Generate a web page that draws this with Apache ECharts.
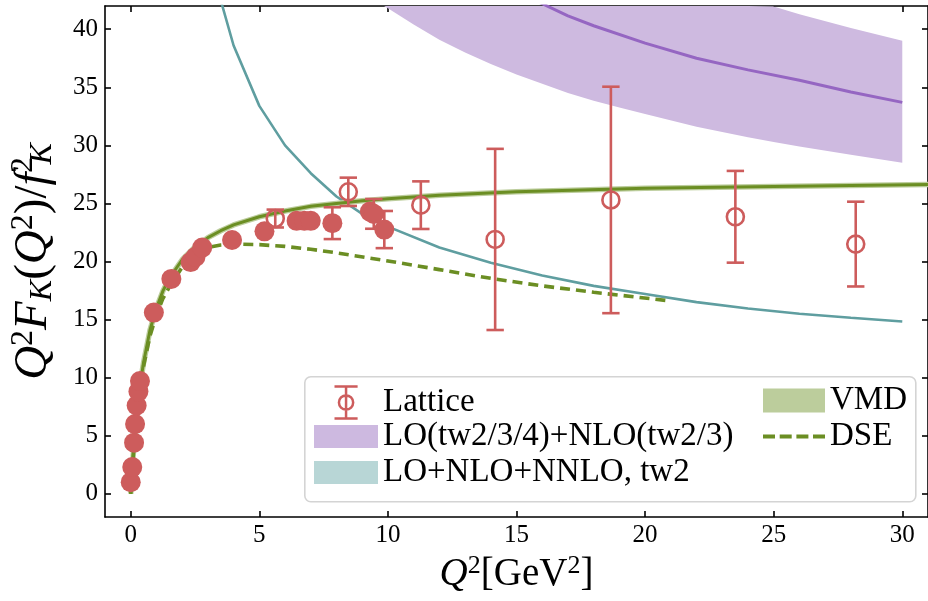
<!DOCTYPE html>
<html><head><meta charset="utf-8">
<script src="https://cdn.jsdelivr.net/npm/echarts@6/dist/echarts.min.js"></script>
<style>html,body{margin:0;padding:0;background:#fff}#c{width:928px;height:601px}</style>
</head><body><div id="c"></div>
<script>
// ---------- tick labels ----------
const xTicks = [0, 5, 10, 15, 20, 25, 30];
const yTicks = [0, 5, 10, 15, 20, 25, 30, 35, 40];

// ---------- Lattice (filled) ----------
const latticeFilledX = [0.00, 0.06, 0.13, 0.17, 0.23, 0.30, 0.36, 0.90, 1.58, 2.33, 2.52, 2.78, 3.94, 5.20, 6.45, 6.75, 7.00, 7.84, 9.30, 9.45, 9.86];
const latticeFilledY = [1.0, 2.3, 4.4, 6.0, 7.6, 8.8, 9.7, 15.6, 18.5, 19.95, 20.4, 21.2, 21.85, 22.6, 23.5, 23.5, 23.5, 23.3, 24.3, 24.1, 22.75];
const latticeFilledErr = [0, 0, 0, 0, 0, 0, 0, 0, 0, 0, 0, 0, 0, 0, 0, 0, 0, 1.37, 0, 1.28, 1.6];

// ---------- Lattice (open) ----------
const latticeOpenX = [5.62, 8.46, 11.28, 14.17, 18.67, 23.51, 28.19];
const latticeOpenY = [23.7, 26.0, 24.85, 21.9, 25.3, 23.85, 21.5];
const latticeOpenErr = [0.77, 1.22, 2.05, 7.8, 9.75, 3.95, 3.65];

// ---------- VMD ----------
const vmdX = [0, 0.1, 0.2, 0.3, 0.4, 0.5, 0.75, 1, 1.25, 1.5, 2, 2.5, 3, 3.5, 4, 5, 6, 7, 8, 9, 10, 12, 15, 20, 25, 31.5];
const vmdY = [0, 3.4, 6.0, 8.2, 9.9, 11.3, 14.1, 16.0, 17.45, 18.55, 20.15, 21.25, 22.05, 22.65, 23.15, 23.85, 24.35, 24.75, 25.0, 25.23, 25.4, 25.7, 26.0, 26.3, 26.45, 26.65];

// ---------- DSE ----------
const dseX = [0, 0.1, 0.2, 0.3, 0.4, 0.5, 0.75, 1, 1.25, 1.5, 2, 2.5, 3, 3.5, 4, 5, 6, 7, 8, 10, 12, 14, 16, 18, 21];
const dseY = [0, 3.3, 5.9, 8.0, 9.7, 11.0, 13.6, 15.4, 16.8, 17.8, 19.5, 20.6, 21.2, 21.42, 21.5, 21.45, 21.3, 21.05, 20.75, 20.05, 19.3, 18.55, 17.9, 17.35, 16.6];

// ---------- LO+NLO+NNLO, tw2 ----------
const tealX = [3, 4, 5, 6, 7, 8, 9, 10, 12, 14, 16, 18, 20, 22, 24, 26, 28, 30];
const tealY = [46.4, 38.6, 33.4, 30.0, 27.6, 25.6, 24.1, 23.0, 21.2, 19.9, 18.8, 17.9, 17.2, 16.5, 15.95, 15.5, 15.15, 14.83];

// ---------- LO(tw2/3/4)+NLO(tw2/3) ----------
const purpleX = [9.85, 10, 11, 12, 13, 14, 15, 16, 17, 18, 19, 20, 22, 24, 25, 26, 28, 30];
const purpleLow = [42.0, 41.8, 40.4, 39.1, 38.0, 37.0, 36.1, 35.3, 34.5, 33.85, 33.25, 32.7, 31.6, 30.7, 30.3, 29.9, 29.2, 28.5];
const purpleHigh = [73, 72, 67, 63, 59.5, 56.5, 54, 51.8, 49.9, 48.2, 46.8, 45.6, 43.8, 42.6, 41.95, 41.3, 40.1, 39.0];
const purpleMidX = [15, 16, 17, 18, 20, 22, 24, 26, 28, 30];
const purpleMid = [43.2, 42.2, 41.15, 40.3, 38.8, 37.5, 36.5, 35.6, 34.6, 33.7];

const FONT = "'Liberation Serif','Times New Roman',serif";
const RED = '#cd5c5c', OLIVE = '#6b8e23', TEAL = '#5f9ea0', PURPLE = '#9566c2';
const NAME_LAT = 'Lattice', NAME_LO = 'LO(tw2/3/4)+NLO(tw2/3)', NAME_NN = 'LO+NLO+NNLO, tw2';

const zip = (xs, ys) => xs.map((x, i) => [x, ys[i]]);
const errData = [];
latticeFilledX.forEach((x, i) => { if (latticeFilledErr[i] > 0) errData.push([x, latticeFilledY[i], latticeFilledErr[i]]); });
latticeOpenX.forEach((x, i) => errData.push([x, latticeOpenY[i], latticeOpenErr[i]]));

function richFor(main, small) {
  const lh = main + 4;
  return {
    i: { fontFamily: FONT, fontStyle: 'italic', fontSize: main, lineHeight: lh, verticalAlign: 'middle', color: '#000' },
    n: { fontFamily: FONT, fontSize: main, lineHeight: lh, verticalAlign: 'middle', color: '#000' },
    sp: { fontFamily: FONT, fontSize: small, lineHeight: small - 2, width: 7, color: '#000' },
    sup: { fontFamily: FONT, fontSize: small, lineHeight: small - 2, verticalAlign: 'top', color: '#000' },
    supn: { fontFamily: FONT, fontSize: small, lineHeight: small - 2, verticalAlign: 'top', color: '#000', width: 1 },
    sub: { fontFamily: FONT, fontStyle: 'italic', fontSize: small, lineHeight: small - 2, verticalAlign: 'bottom', color: '#000' }
  };
}

const latticeIcon = 'path://M0,0 L26,0 M13,0 L13,36 M0,36 L26,36 M21,18 A8,8 0 1 1 5,18 A8,8 0 1 1 21,18 Z';
const dseIcon = 'path://M0,0 h12 v4 h-12 Z M16.7,0 h12 v4 h-12 Z M33.4,0 h12 v4 h-12 Z M50,0 h12 v4 h-12 Z';

const axCommon = {
  type: 'value', splitLine: { show: false },
  axisLine: { show: true, onZero: false, lineStyle: { color: '#000', width: 1.6 } }
};
const tickStyle = { color: '#000', width: 1.6 };
const legendText = { fontFamily: FONT, fontSize: 33, color: '#000', lineHeight: 33 };

const chart = echarts.init(document.getElementById('c'), null, { renderer: 'canvas' });
chart.setOption({
  animation: false,
  backgroundColor: '#fff',
  grid: { left: 104, right: -2, top: 6, bottom: 84, containLabel: false },
  xAxis: [
    Object.assign({}, axCommon, {
      min: -1, max: 31, position: 'bottom',
      axisTick: { show: true, inside: true, length: 6, lineStyle: tickStyle, customValues: xTicks },
      axisLabel: { customValues: xTicks, fontFamily: FONT, fontSize: 25, color: '#000', margin: 6 },
      name: '{i|Q}{sup|2}{n|[GeV}{sup|2}{n|]}', nameLocation: 'middle', nameGap: 35,
      nameTextStyle: { rich: richFor(39, 26) }
    }),
    Object.assign({}, axCommon, {
      min: -1, max: 31, position: 'top',
      axisTick: { show: true, inside: true, length: 6, lineStyle: tickStyle, customValues: xTicks },
      axisLabel: { show: false }
    })
  ],
  yAxis: [
    Object.assign({}, axCommon, {
      min: -2, max: 42, position: 'left',
      axisTick: { show: true, inside: true, length: 6, lineStyle: tickStyle, customValues: yTicks },
      axisLabel: { customValues: yTicks, fontFamily: FONT, fontSize: 25, color: '#000', margin: 7 },
      name: '{i|Q}{sup|2}{i|F}{sub|K}{n|(}{i|Q}{sup|2}{n|)/}{i|f}{sp| }{supn|2}{sub|K}',
      nameLocation: 'middle', nameGap: 46, nameRotate: 90,
      nameTextStyle: { rich: richFor(47, 32) }
    }),
    Object.assign({}, axCommon, {
      min: -2, max: 42, position: 'right',
      axisTick: { show: true, inside: true, length: 6, lineStyle: tickStyle, customValues: yTicks },
      axisLabel: { show: false }
    })
  ],
  legend: [
    {
      left: 332, top: 384, padding: 0, orient: 'vertical', selectedMode: false,
      itemWidth: 64, itemHeight: 32, textStyle: legendText,
      data: [{ name: NAME_LAT, icon: latticeIcon, itemStyle: { color: 'none', borderColor: RED, borderWidth: 2.5 } }]
    },
    {
      left: 314, top: 420, padding: 0, orient: 'vertical', selectedMode: false,
      itemWidth: 64, itemHeight: 23, itemGap: 3, textStyle: legendText,
      data: [
        { name: NAME_LO, icon: 'rect', itemStyle: { color: '#cdb9e0', borderWidth: 0 } },
        { name: NAME_NN, icon: 'rect', itemStyle: { color: '#b8d6d6', borderWidth: 0 } }
      ]
    },
    {
      left: 763, top: 384, padding: 0, orient: 'vertical', selectedMode: false,
      itemWidth: 62, itemHeight: 24, itemGap: 3, textStyle: legendText,
      data: [
        { name: 'VMD', icon: 'rect', itemStyle: { color: '#bccd9c', borderWidth: 0 } },
        { name: 'DSE', icon: dseIcon, itemStyle: { color: OLIVE, borderWidth: 0 } }
      ]
    }
  ],
  graphic: [{
    type: 'rect', left: 304, top: 376, z: 3,
    shape: { width: 611, height: 125, r: 6 },
    style: { fill: 'rgba(255,255,255,0.85)', stroke: '#d4d4d4', lineWidth: 1.6 }
  }],
  series: [
    { type: 'custom', name: NAME_LO, data: [[purpleX[0], purpleLow[0]]], encode: { x: 0, y: 1 }, z: 1, silent: true,
      itemStyle: { color: '#cdb9e0' },
      renderItem: function (params, api) {
        const pts = [];
        purpleX.forEach((x, i) => pts.push(api.coord([x, purpleLow[i]])));
        for (let i = purpleX.length - 1; i >= 0; i--) pts.push(api.coord([purpleX[i], purpleHigh[i]]));
        const cs = params.coordSys;
        const clipped = echarts.graphic.clipPointsByRect(pts, { x: cs.x, y: cs.y, width: cs.width, height: cs.height });
        return { type: 'polygon', shape: { points: clipped }, style: { fill: '#cebae0', stroke: 'none' } };
      } },
    { type: 'line', name: 'pmid', data: zip(purpleMidX, purpleMid), symbol: 'none',
      lineStyle: { color: PURPLE, width: 3 }, z: 2, silent: true },
    { type: 'line', name: NAME_NN, data: zip(tealX, tealY), symbol: 'none',
      lineStyle: { color: TEAL, width: 2.6 }, itemStyle: { color: '#b8d6d6' }, z: 2, silent: true },
    { type: 'line', name: 'vmdband', data: zip(vmdX, vmdY), symbol: 'none',
      lineStyle: { color: '#bccd9c', width: 5.5 }, z: 2, silent: true },
    { type: 'line', name: 'VMD', data: zip(vmdX, vmdY), symbol: 'none',
      lineStyle: { color: OLIVE, width: 3 }, itemStyle: { color: '#bccd9c' }, z: 3, silent: true },
    { type: 'line', name: 'DSE', data: zip(dseX, dseY), symbol: 'none',
      lineStyle: { color: OLIVE, width: 3.6, type: [10, 6] }, itemStyle: { color: OLIVE }, z: 3, silent: true },
    { type: 'custom', name: 'errbars', data: errData, encode: { x: 0, y: 1 }, z: 4, silent: true,
      renderItem: function (params, api) {
        const x = api.value(0), y = api.value(1), e = api.value(2);
        const t = api.coord([x, y + e]), b = api.coord([x, y - e]);
        const hw = 8.7;
        const st = { stroke: RED, lineWidth: 2.6 };
        return { type: 'group', children: [
          { type: 'line', shape: { x1: t[0], y1: t[1], x2: b[0], y2: b[1] }, style: st },
          { type: 'line', shape: { x1: t[0] - hw, y1: t[1], x2: t[0] + hw, y2: t[1] }, style: st },
          { type: 'line', shape: { x1: b[0] - hw, y1: b[1], x2: b[0] + hw, y2: b[1] }, style: st }
        ] };
      } },
    { type: 'scatter', name: 'latfilled', data: zip(latticeFilledX, latticeFilledY), symbol: 'circle', symbolSize: 20,
      itemStyle: { color: RED, opacity: 1 }, z: 5, silent: true },
    { type: 'scatter', name: NAME_LAT, data: zip(latticeOpenX, latticeOpenY), symbol: 'circle', symbolSize: 17,
      itemStyle: { color: 'rgba(255,255,255,0)', borderColor: RED, borderWidth: 2.6, opacity: 1 }, z: 5, silent: true }
  ]
});
</script>
</body></html>
